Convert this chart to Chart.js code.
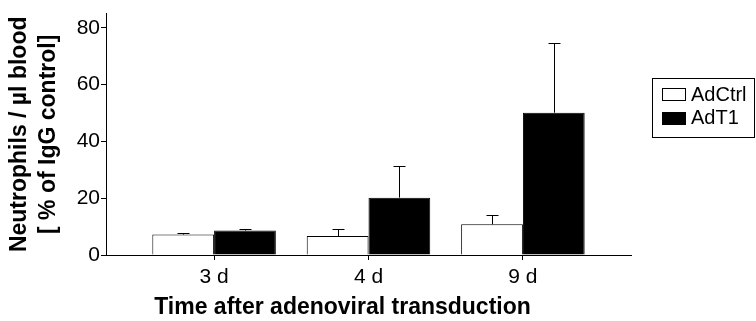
<!DOCTYPE html>
<html>
<head>
<meta charset="utf-8">
<script src="https://cdn.jsdelivr.net/npm/chart.js@4"></script>
<style>
  html, body { margin: 0; background: #fff; }
  #wrap { width: 756px; height: 321px; }
</style>
</head>
<body>
<div id="wrap"><canvas id="cv"></canvas></div>
<script>
/* global Chart */
const categories = ["3 d", "4 d", "9 d"];
const seriesNames = ["AdCtrl", "AdT1"];
const adCtrl = [7.2, 6.7, 10.8];
const adCtrlErr = [0.5, 2.4, 3.3];
const adT1 = [8.6, 20.2, 50.1];
const adT1Err = [0.5, 11.3, 24.7];
const yTicks = [0, 20, 40, 60, 80];
const xTitle = "Time after adenoviral transduction";

const FONT = 'Arial, "Liberation Sans", Helvetica, sans-serif';

// categories sit at x = 1, 2, 3 on a linear axis
const toPoints = (vals) => vals.map((v, i) => ({ x: i + 1, y: v }));

// upward-only error bars with a small cap
const errorBars = {
  id: "errorBars",
  afterDatasetsDraw(chart) {
    const ctx = chart.ctx;
    const y = chart.scales.y;
    chart.data.datasets.forEach((ds, i) => {
      const meta = chart.getDatasetMeta(i);
      meta.data.forEach((bar, j) => {
        const top = Math.round(y.getPixelForValue(ds.data[j].y + ds.errors[j])) + 0.5;
        const x = Math.round(bar.x) + 0.5;
        ctx.save();
        ctx.strokeStyle = "#000";
        ctx.lineWidth = 1;
        ctx.beginPath();
        ctx.moveTo(x, bar.y);
        ctx.lineTo(x, top);
        ctx.moveTo(x - 6, top);
        ctx.lineTo(x + 6, top);
        ctx.stroke();
        ctx.restore();
      });
    });
  }
};

// legend in a framed box right of the plot, plus the x title (sits a bit left of axis centre)
const boxLegend = {
  id: "boxLegend",
  afterDraw(chart) {
    const ctx = chart.ctx;
    const area = chart.chartArea;
    const left = area.right + 21;
    const right = chart.width - 1;
    const top = 78, bottom = 137;
    ctx.save();
    ctx.strokeStyle = "#000";
    ctx.lineWidth = 1;
    ctx.strokeRect(left + 0.5, top + 0.5, right - left - 1, bottom - top);
    ctx.font = "20px " + FONT;
    ctx.textBaseline = "middle";
    chart.data.datasets.forEach((ds, i) => {
      const cy = top + 16 + i * 23.5;
      const sx = left + 10, sy = Math.round(cy - 6);
      ctx.fillStyle = ds.backgroundColor;
      ctx.fillRect(sx, sy, 23, 12);
      ctx.strokeRect(sx + 0.5, sy + 0.5, 23, 12);
      ctx.fillStyle = "#000";
      ctx.fillText(ds.label, left + 39, cy + 1);
    });

    ctx.font = "bold 23px " + FONT;
    ctx.textAlign = "center";
    ctx.fillText(xTitle, (area.left + area.right) / 2 - 26, chart.height - 13);
    ctx.restore();
  }
};

new Chart(document.getElementById("cv"), {
  type: "bar",
  data: {
    datasets: [
      {
        label: seriesNames[0],
        data: toPoints(adCtrl),
        errors: adCtrlErr,
        backgroundColor: "#ffffff",
        borderColor: "#000",
        borderWidth: 1
      },
      {
        label: seriesNames[1],
        data: toPoints(adT1),
        errors: adT1Err,
        backgroundColor: "#000000",
        borderColor: "#000",
        borderWidth: 1
      }
    ]
  },
  options: {
    responsive: true,
    maintainAspectRatio: false,
    animation: false,
    events: [],
    categoryPercentage: 0.8,
    barPercentage: 1.0,
    layout: { padding: { top: 8, right: 125, left: 0, bottom: 0 } },
    plugins: {
      legend: { display: false },
      tooltip: { enabled: false }
    },
    scales: {
      x: {
        type: "linear",
        min: 0.3,
        max: 3.7,
        offset: false,
        afterBuildTicks: (s) => { s.ticks = categories.map((c, i) => ({ value: i + 1 })); },
        afterFit: (s) => { s.height = 66; },
        grid: { display: true, offset: false, drawOnChartArea: false, drawTicks: true, tickLength: 5, color: "#000" },
        border: { display: true, color: "#000", width: 1 },
        ticks: {
          color: "#000",
          font: { family: FONT, size: 21 },
          padding: 5,
          maxRotation: 0,
          callback: (v) => categories[v - 1] || ""
        }
      },
      y: {
        min: 0,
        max: 85,
        afterBuildTicks: (s) => { s.ticks = yTicks.map((v) => ({ value: v })); },
        afterFit: (s) => { s.width = 106; },
        grid: { display: true, drawOnChartArea: false, drawTicks: true, tickLength: 5, color: "#000" },
        border: { display: true, color: "#000", width: 1 },
        ticks: {
          color: "#000",
          font: { family: FONT, size: 21 },
          padding: 1
        },
        title: {
          display: true,
          text: ["Neutrophils / µl blood", "[ % of IgG control]"],
          color: "#000",
          font: { family: FONT, size: 23, weight: "bold", lineHeight: 29 / 23 },
          padding: { top: 5.5, bottom: 0 }
        }
      }
    }
  },
  plugins: [errorBars, boxLegend]
});
</script>
</body>
</html>
